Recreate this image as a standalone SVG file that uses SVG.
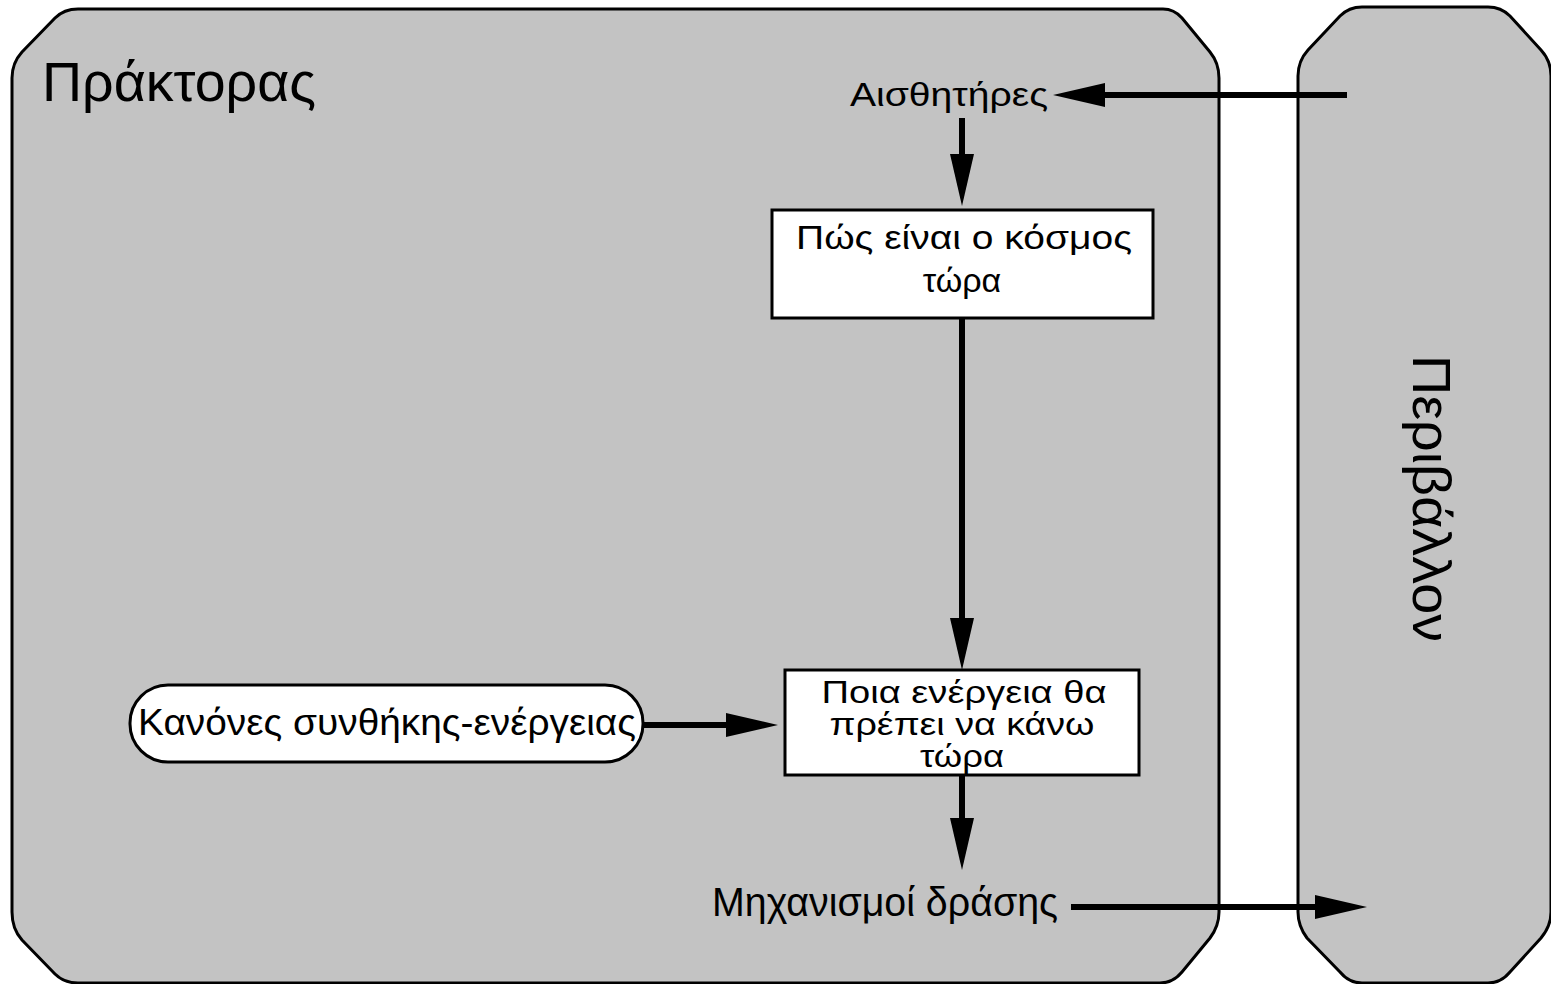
<svg xmlns="http://www.w3.org/2000/svg" width="1551" height="984" viewBox="0 0 1551 984">
  <style>
    .panel { fill: #c3c3c3; stroke: #000; stroke-width: 3; }
    .box { fill: #fff; stroke: #000; stroke-width: 3; }
    .label { font-family: "Liberation Sans", Arial, sans-serif; fill: #000; }
    .flow { stroke: #000; stroke-width: 6; fill: none; marker-end: url(#head); }
  </style>
  <defs>
    <marker id="head" markerUnits="userSpaceOnUse" viewBox="0 0 52 24" markerWidth="52" markerHeight="24" refX="1" refY="12" orient="auto">
      <path d="M0,0 L52,12 L0,24 Z" fill="#000"/>
    </marker>
  </defs>

  <rect width="1551" height="984" fill="#fff"/>

  <!-- Agent -->
  <g id="agent">
    <path class="panel" d="M78,9 L1163,9 Q1174,9 1182,18 L1210,52 Q1219,63 1219,78 L1219,912 Q1219,926 1210,938 L1182,972 Q1173,983 1160,983 L78,983 Q64,983 55,974 L22,940 Q12,929 12,912 L12,78 Q12,63 22,52 L55,18 Q64,9 78,9 Z"/>
    <text class="label" x="42" y="101" font-size="55" textLength="274" lengthAdjust="spacingAndGlyphs">Πράκτορας</text>
  </g>

  <!-- Environment -->
  <g id="environment">
    <path class="panel" d="M1362,7 L1488,7 Q1501,7 1510,16 L1541,50 Q1551,61 1551,76 L1551,912 Q1551,926 1541,938 L1510,972 Q1501,983 1488,983 L1362,983 Q1349,983 1340,972 L1307,938 Q1298,926 1298,912 L1298,76 Q1298,61 1308,50 L1340,16 Q1349,7 1362,7 Z"/>
    <text class="label" transform="translate(1413,355) rotate(90)" font-size="54" textLength="287" lengthAdjust="spacingAndGlyphs">Περιβάλλον</text>
  </g>

  <g id="sensors">
    <text class="label" x="850" y="106" font-size="33" textLength="198" lengthAdjust="spacingAndGlyphs">Αισθητήρες</text>
  </g>

  <g id="world-state">
    <rect class="box" x="772" y="210" width="381" height="108"/>
    <text class="label" x="964" y="249" font-size="34" text-anchor="middle" textLength="336" lengthAdjust="spacingAndGlyphs">Πώς είναι ο κόσμος</text>
    <text class="label" x="962" y="292" font-size="34" text-anchor="middle">τώρα</text>
  </g>

  <g id="rules">
    <rect class="box" x="130" y="685" width="513" height="77" rx="38" ry="38"/>
    <text class="label" x="138" y="735" font-size="37" textLength="498" lengthAdjust="spacingAndGlyphs">Κανόνες συνθήκης-ενέργειας</text>
  </g>

  <g id="action-choice">
    <rect class="box" x="785" y="670" width="354" height="105"/>
    <text class="label" x="964" y="703" font-size="32" text-anchor="middle" textLength="285" lengthAdjust="spacingAndGlyphs">Ποια ενέργεια θα</text>
    <text class="label" x="962" y="735" font-size="32" text-anchor="middle" textLength="265" lengthAdjust="spacingAndGlyphs">πρέπει να κάνω</text>
    <text class="label" x="962" y="767" font-size="32" text-anchor="middle" textLength="84" lengthAdjust="spacingAndGlyphs">τώρα</text>
  </g>

  <g id="effectors">
    <text class="label" x="712" y="916" font-size="40" textLength="346" lengthAdjust="spacingAndGlyphs">Μηχανισμοί δράσης</text>
  </g>

  <!-- Connectors -->
  <g id="connectors">
    <line class="flow" x1="1347" y1="95" x2="1104" y2="95"/>
    <line class="flow" x1="962" y1="118" x2="962" y2="155"/>
    <line class="flow" x1="962" y1="318" x2="962" y2="619"/>
    <line class="flow" x1="643" y1="725" x2="727" y2="725"/>
    <line class="flow" x1="962" y1="775" x2="962" y2="819"/>
    <line class="flow" x1="1071" y1="907" x2="1316" y2="907"/>
  </g>
</svg>
